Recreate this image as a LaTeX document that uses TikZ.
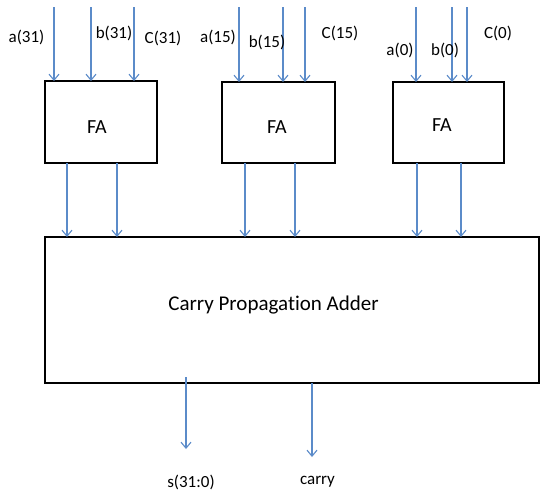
\documentclass[tikz,border=0pt]{standalone}
\usepackage{fontspec}
\setmainfont[Ligatures=NoCommon]{Carlito}
\usetikzlibrary{arrows.meta}
\definecolor{wireblue}{HTML}{5B8BC9}
\tikzset{
  blk/.style={draw=black, line width=2.6pt, rectangle, inner sep=0pt, outer sep=0pt},
  wire/.style={draw=wireblue, line width=1.1pt, -{Straight Barb[length=6pt,width=10pt,line width=1.1pt]}},
  lbl/.style={font=\fontsize{17}{20}\selectfont, inner sep=0pt},
  fatxt/.style={font=\fontsize{20}{24}\selectfont, inner sep=0pt},
}
\begin{document}
\begin{tikzpicture}[x=1pt,y=-1pt]
\useasboundingbox (0,0) rectangle (540,493);
% FA boxes
\node[blk, minimum width=112pt, minimum height=82pt] (fa1) at (101,122) {};
\node[blk, minimum width=113pt, minimum height=81pt] (fa2) at (278.5,122.5) {};
\node[blk, minimum width=111pt, minimum height=81pt] (fa3) at (448.5,122.5) {};
\node[fatxt] (fa1t) at (97,127) {FA};
\node[fatxt] (fa2t) at (277,127) {FA};
\node[fatxt] (fa3t) at (442,125) {FA};
% CPA
\node[blk, minimum width=494pt, minimum height=146pt] (cpa) at (292,310) {};
\node[font=\fontsize{21}{25}\selectfont, inner sep=0pt] (cpat) at (273.5,305) {Carry Propagation Adder};
% input coordinates
\coordinate (i1a) at (54,7);
\coordinate (i1b) at (91,7);
\coordinate (i1c) at (134,7);
\coordinate (i2a) at (239,7);
\coordinate (i2b) at (283,7);
\coordinate (i2c) at (305,7);
\coordinate (i3a) at (416,7);
\coordinate (i3b) at (452,7);
\coordinate (i3c) at (467,7);
\foreach \c/\b in {i1a/fa1,i1b/fa1,i1c/fa1,i2a/fa2,i2b/fa2,i2c/fa2,i3a/fa3,i3b/fa3,i3c/fa3}
  \draw[wire] (\c) -- (\c |- \b.north);
% input labels
\node[lbl] (la31) at (26.5,37) {a(31)};
\node[lbl] (lb31) at (114,33) {b(31)};
\node[lbl] (lc31) at (163,38) {C(31)};
\node[lbl] (la15) at (218,37) {a(15)};
\node[lbl] (lb15) at (267,42) {b(15)};
\node[lbl] (lc15) at (340,33) {C(15)};
\node[lbl] (la0) at (400,50) {a(0)};
\node[lbl] (lb0) at (445,50) {b(0)};
\node[lbl] (lc0) at (498,33) {C(0)};
% FA outputs
\coordinate (o1a) at (67,163);
\coordinate (o1b) at (117,163);
\coordinate (o2a) at (245,163);
\coordinate (o2b) at (295,163);
\coordinate (o3a) at (417,163);
\coordinate (o3b) at (461,163);
\foreach \c in {o1a,o1b,o2a,o2b,o3a,o3b}
  \draw[wire] (\c) -- (\c |- cpa.north);
% CPA outputs
\coordinate (ss) at (186,377);
\coordinate (se) at (186,449);
\coordinate (cs) at (312,383);
\coordinate (ce) at (312,457);
\draw[wire] (ss) -- (se);
\draw[wire] (cs) -- (ce);
\node[lbl] (ls) at (191,482) {s(31:0)};
\node[lbl] (lcarry) at (317.5,482) {carry};
\end{tikzpicture}
\end{document}
